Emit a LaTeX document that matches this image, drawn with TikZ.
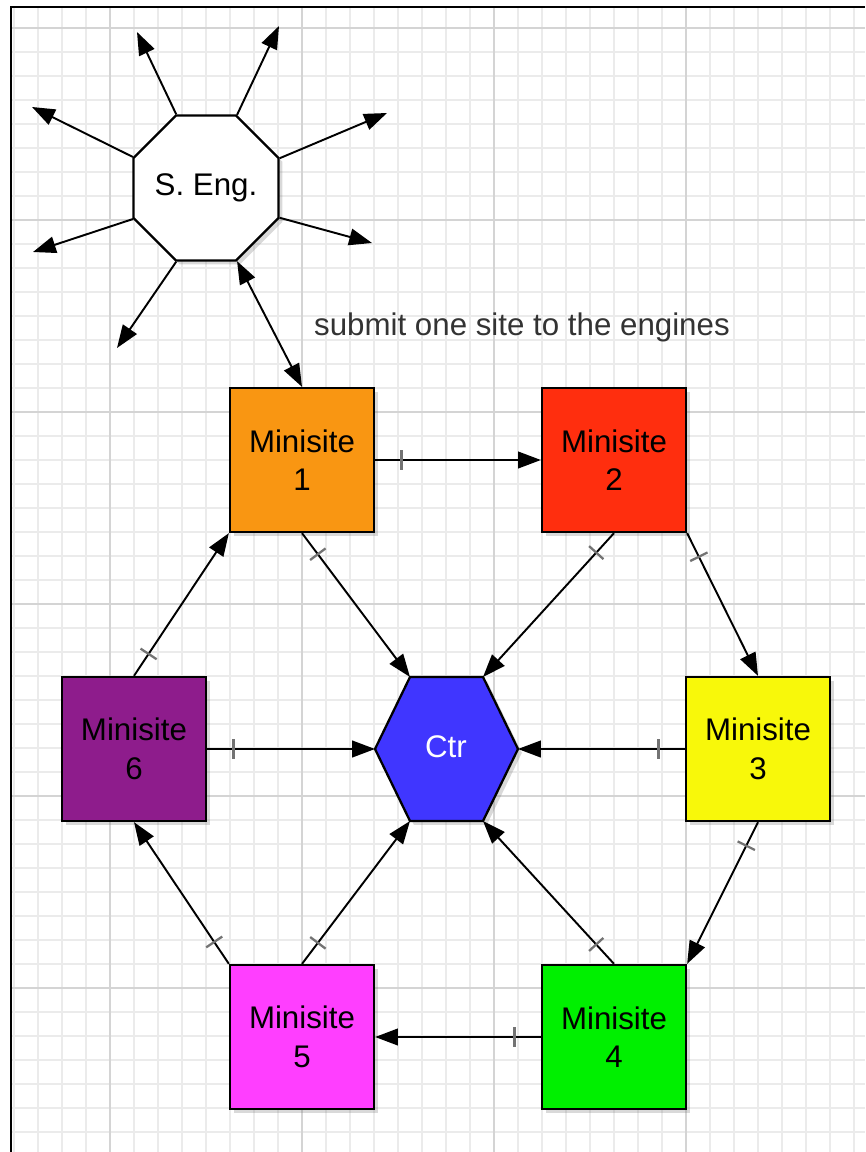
\documentclass[tikz,border=0pt]{standalone}
\usepackage{fontspec}
\setmainfont{Liberation Sans}
\usetikzlibrary{arrows.meta,shapes.geometric,shadows,decorations.markings}

\definecolor{siteorange}{RGB}{249,150,18}
\definecolor{sitered}{RGB}{255,46,14}
\definecolor{siteyellow}{RGB}{248,248,10}
\definecolor{sitegreen}{RGB}{0,240,0}
\definecolor{sitepink}{RGB}{255,62,255}
\definecolor{sitepurple}{RGB}{142,28,140}
\definecolor{ctrblue}{RGB}{64,54,255}

\def\labelfont{\fontsize{17.8}{22}\selectfont}
\def\tip{Triangle[length=13pt,width=9.5pt]}

\tikzset{
	minorline/.style={line width=0.6pt, color=black!8},
	majorline/.style={line width=0.8pt, color=black!17},
	frameline/.style={line width=1.5pt, color=black},
	shade/.style={drop shadow={shadow xshift=2.2pt, shadow yshift=-2.2pt, opacity=0.3}},
	site/.style={draw, line width=1.3pt, minimum size=2.88cm, inner sep=0pt, align=center, font=\labelfont, shade},
	engine/.style={draw, fill=white, line width=1.3pt, regular polygon, regular polygon sides=8, minimum size=3.12cm, inner sep=0pt, font=\labelfont, shade},
	spoke/.style={line width=1.1pt, -{\tip}},
	twoway/.style={line width=1.1pt, {\tip}-{\tip}},
	link/.style={line width=1.1pt, -{\tip}, postaction={decorate},
		decoration={markings, mark=at position 15pt with {\draw[-, line width=1.3pt, color=black!55] (0,-5.5pt) -- (0,5.5pt);}}},
}

\begin{document}
\begin{tikzpicture}[x=0.02cm, y=-0.02cm]
		%%%%% START %%%%%
		\useasboundingbox (0,0) rectangle (865,1152);
		
		\foreach \gx in {14,38,...,854}
			\draw[minorline] (\gx,7) -- (\gx,1152);
		\foreach \gy in {28,52,...,1148}
			\draw[minorline] (11,\gy) -- (865,\gy);
		\foreach \gx in {110,302,494,686}
			\draw[majorline] (\gx,7) -- (\gx,1152);
		\foreach \gy in {28,220,412,604,796,988}
			\draw[majorline] (11,\gy) -- (865,\gy);
		
		\draw[frameline] (11,1152) -- (11,7) -- (865,7);
		
		\node[engine] (seng) at (206,188) {S. Eng.};
		
		\foreach \ang/\ex/\ey [count=\i] in {112.5/137/32, 67.5/279/26, 22.5/387/113, -22.5/372/243, -112.5/117/348, -157.5/33/252, 157.5/32/107}
		{
			\coordinate (ray\i) at (\ex,\ey);
			\draw[spoke] (seng.\ang) -- (ray\i);
		}
		
		\node[anchor=west, font=\labelfont, color=black!80] (submit) at (308,327) {submit one site to the engines};
		
		\node[site, fill=siteorange] (m1) at (302,460) {Minisite\\1};
		\node[site, fill=sitered] (m2) at (614,460) {Minisite\\2};
		\node[site, fill=siteyellow] (m3) at (758,749) {Minisite\\3};
		\node[site, fill=sitegreen] (m4) at (614,1037) {Minisite\\4};
		\node[site, fill=sitepink] (m5) at (302,1037) {Minisite\\5};
		\node[site, fill=sitepurple] (m6) at (134,749) {Minisite\\6};
		
		\coordinate (ctr-w) at (375,749);
		\coordinate (ctr-nw) at (410,677);
		\coordinate (ctr-ne) at (483,677);
		\coordinate (ctr-e) at (518,749);
		\coordinate (ctr-se) at (483,821);
		\coordinate (ctr-sw) at (410,821);
		\draw[line width=1.3pt, fill=ctrblue, shade] (ctr-w) -- (ctr-nw) -- (ctr-ne) -- (ctr-e) -- (ctr-se) -- (ctr-sw) -- cycle;
		\node[font=\labelfont, color=white] (ctr) at (446,747) {Ctr};
		
		\draw[twoway] (seng.-67.5) -- (m1.north);
		
		\draw[link] (m1.east) -- (m2.west);
		\draw[link] (m1.south) -- (ctr-nw);
		\draw[link] (m2.south) -- (ctr-ne);
		\draw[link] (m2.south east) -- (m3.north);
		\draw[link] (m3.west) -- (ctr-e);
		\draw[link] (m3.south) -- (m4.north east);
		\draw[link] (m4.north) -- (ctr-se);
		\draw[link] (m4.west) -- (m5.east);
		\draw[link] (m5.north) -- (ctr-sw);
		\draw[link] (m5.north west) -- (m6.south);
		\draw[link] (m6.east) -- (ctr-w);
		\draw[link] (m6.north) -- (m1.south west);
		
		%%%%% END %%%%%
	\end{tikzpicture}
\end{document}
